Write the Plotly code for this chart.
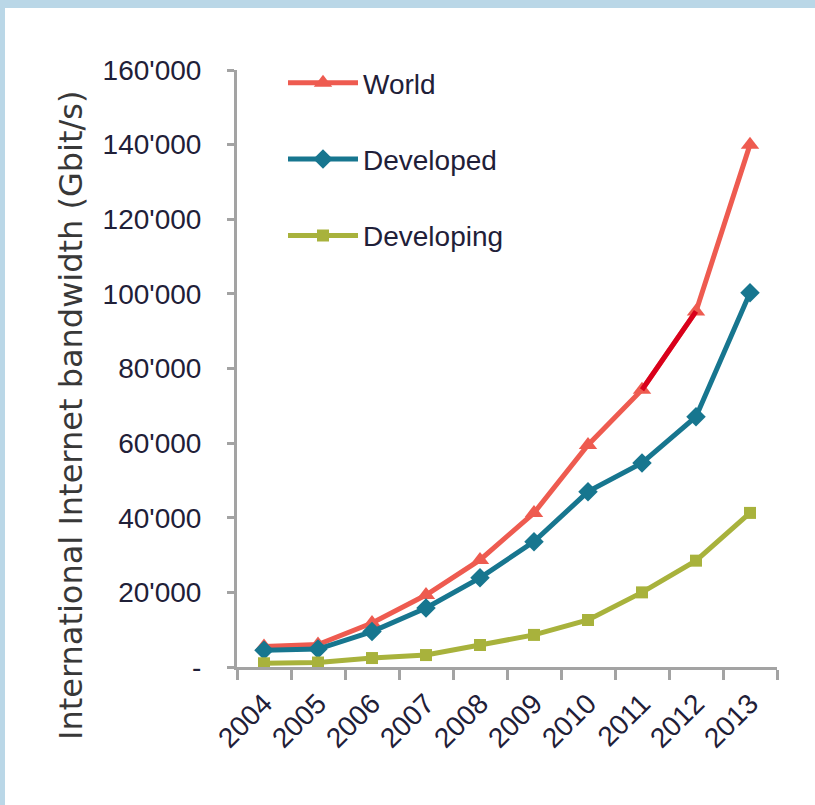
import plotly.graph_objects as go

years = ["2004", "2005", "2006", "2007", "2008", "2009", "2010", "2011", "2012", "2013"]
world = [5500, 6000, 11800, 19300, 28700, 41300, 59500, 74300, 95300, 140000]
developed = [4500, 4800, 9500, 15800, 23900, 33600, 47000, 54700, 67100, 100300]
developing = [1000, 1200, 2400, 3200, 5900, 8600, 12600, 20000, 28500, 41300]

y_tick_vals = [0, 20000, 40000, 60000, 80000, 100000, 120000, 140000, 160000]
y_tick_text = ["-", "20'000", "40'000", "60'000", "80'000", "100'000", "120'000", "140'000", "160'000"]
y_title = "International Internet bandwidth (Gbit/s)"

W, H = 815, 805
L, R, T, B = 237, 38, 70, 138
pw, ph = W - L - R, H - T - B

AXIS_GREY = "#a3a3a3"
TEXT = "#1f2038"
NARROW = "Liberation Sans Narrow, Arial Narrow, sans-serif"

fig = go.Figure()

series = [
    ("World", world, "#ee5b50", "triangle-up", 16),
    ("Developed", developed, "#17768f", "diamond", 15),
    ("Developing", developing, "#a8b23c", "square", 12),
]
for i, (name, vals, color, sym, ms) in enumerate(series):
    fig.add_trace(go.Scatter(
        x=years, y=vals, name=name, mode="lines+markers",
        line=dict(color=color, width=5),
        marker=dict(symbol=sym, size=ms, color=color),
        legendgroup=f"g{i}",
    ))

# darker stretch of the World line between 2011 and 2012
fig.add_trace(go.Scatter(
    x=years[7:9], y=world[7:9], mode="lines",
    line=dict(color="#d9001b", width=5),
    showlegend=False, hoverinfo="skip",
))

# white panel inside the light blue frame
fig.add_shape(
    type="rect", xref="paper", yref="paper", layer="below",
    x0=(5 - L) / pw, x1=(W + 20 - L) / pw,
    y0=-(B + 20) / ph, y1=(H - B - 8) / ph,
    fillcolor="white", line=dict(width=0),
)

# vertical axis title
fig.add_annotation(
    text=y_title, textangle=-90, showarrow=False,
    xref="paper", yref="paper",
    x=(71 - L) / pw, y=(H - B - 415) / ph,
    xanchor="center", yanchor="middle",
    font=dict(family="DejaVu Sans, sans-serif", size=32, color="#383838"),
)

fig.update_layout(
    width=W, height=H,
    margin=dict(l=L, r=R, t=T, b=B, pad=0),
    paper_bgcolor="#bad7e7",
    plot_bgcolor="white",
    showlegend=True,
    legend=dict(
        x=(283 - L) / pw, y=1.0 + 12 / ph, xanchor="left", yanchor="top",
        bgcolor="rgba(0,0,0,0)", borderwidth=0,
        font=dict(family=NARROW, size=28, color=TEXT),
        tracegroupgap=37, itemwidth=70,
    ),
    xaxis=dict(
        type="category", range=[-0.5, 9.5],
        showline=True, linecolor=AXIS_GREY, linewidth=3,
        ticks="outside", tickson="boundaries", ticklen=10, tickwidth=3, tickcolor=AXIS_GREY,
        tickangle=-45, ticklabelstandoff=6,
        tickfont=dict(family=NARROW, size=28, color=TEXT),
        showgrid=False, zeroline=False, fixedrange=True,
    ),
    yaxis=dict(
        range=[0, 160000],
        tickvals=y_tick_vals, ticktext=y_tick_text,
        showline=True, linecolor=AXIS_GREY, linewidth=3,
        ticks="outside", ticklen=7, tickwidth=3, tickcolor=AXIS_GREY,
        ticklabelstandoff=20,
        tickfont=dict(family=NARROW, size=28, color=TEXT),
        showgrid=False, zeroline=False, fixedrange=True,
    ),
)

fig.write_html("out.html")
